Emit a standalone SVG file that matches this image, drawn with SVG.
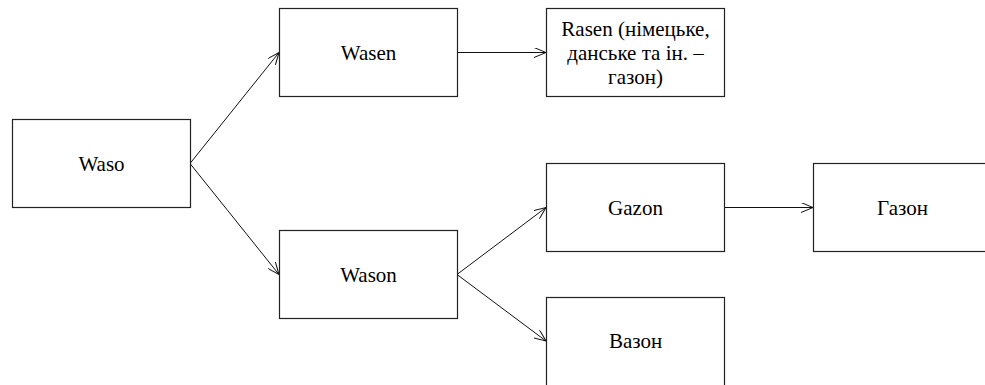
<svg xmlns="http://www.w3.org/2000/svg" width="985" height="385" viewBox="0 0 985 385">
<style>
.box{fill:#fff;stroke:#222;stroke-width:1.2}
.lbl{font-family:'Liberation Serif','Times New Roman',serif;font-size:21px;fill:#000;text-anchor:middle}
.con{fill:none;stroke:#111;stroke-width:1}
</style>
<defs>
<marker id="arr" viewBox="0 0 12 10" refX="12" refY="5" markerWidth="12" markerHeight="10" markerUnits="userSpaceOnUse" orient="auto">
<path d="M0,0 L12,5 L0,10" fill="none" stroke="#111" stroke-width="1"/>
</marker>
</defs>
<rect width="985" height="385" fill="#fff"/>
<g id="connectors">
<line class="con" x1="190" y1="163.5" x2="279" y2="52.5" marker-end="url(#arr)"/>
<line class="con" x1="190" y1="163.5" x2="279" y2="274.5" marker-end="url(#arr)"/>
<line class="con" x1="457" y1="52.5" x2="546" y2="52.5" marker-end="url(#arr)"/>
<line class="con" x1="457" y1="274.5" x2="546" y2="207.5" marker-end="url(#arr)"/>
<line class="con" x1="457" y1="274.5" x2="546" y2="341" marker-end="url(#arr)"/>
<line class="con" x1="724" y1="207.5" x2="813" y2="207.5" marker-end="url(#arr)"/>
</g>
<g id="waso">
<rect class="box" x="12.5" y="119.5" width="178" height="88"/>
<text class="lbl" x="101.5" y="170.5">Waso</text>
</g>
<g id="wasen">
<rect class="box" x="279.5" y="8.5" width="178" height="88"/>
<text class="lbl" x="368.5" y="59.5">Wasen</text>
</g>
<g id="rasen">
<rect class="box" x="546.5" y="8.5" width="178" height="88"/>
<text class="lbl" x="635.5" y="36">Rasen (німецьке,</text>
<text class="lbl" x="635.5" y="60">данське та ін. –</text>
<text class="lbl" x="635.5" y="84">газон)</text>
</g>
<g id="wason">
<rect class="box" x="279.5" y="230.5" width="178" height="88"/>
<text class="lbl" x="368.5" y="281.5">Wason</text>
</g>
<g id="gazon">
<rect class="box" x="546.5" y="163.5" width="178" height="88"/>
<text class="lbl" x="635.5" y="214.5">Gazon</text>
</g>
<g id="gazon-ua">
<rect class="box" x="813.5" y="163.5" width="182" height="88"/>
<text class="lbl" x="902.5" y="214.5">Газон</text>
</g>
<g id="vazon">
<rect class="box" x="546.5" y="297.5" width="178" height="92"/>
<text class="lbl" x="635.5" y="348">Вазон</text>
</g>
</svg>
